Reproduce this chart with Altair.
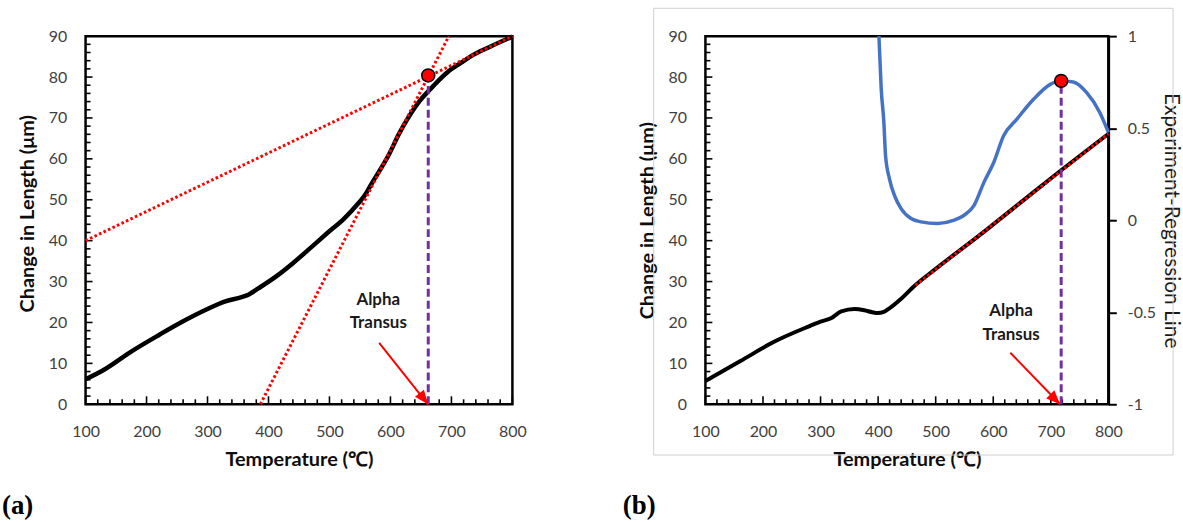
import altair as alt
import pandas as pd

# ---------------- Panel (a) values ----------------
a_temp = [100, 131, 176, 221, 260, 300, 328, 356, 367, 384, 412, 440, 468, 496, 524, 547,
          558, 569, 581, 598, 614, 626, 637, 648, 662, 676, 693, 716, 738, 766, 800]
a_len = [6.1, 8.5, 13.0, 17.0, 20.3, 23.3, 25.1, 26.2, 26.8, 28.4, 31.2, 34.5, 38.1, 41.8, 45.4, 49.1,
         51.1, 53.9, 56.8, 61.2, 66.1, 69.3, 71.9, 74.2, 76.5, 78.7, 81.1, 83.5, 85.6, 87.6, 89.9]
a_tan1_temp = [100, 800]
a_tan1_len = [40, 90]
a_tan2_temp = [386.7, 695.8]
a_tan2_len = [0, 90]
a_point_temp = [662]
a_point_len = [80.4]
a_vline_temp = [662, 662]
a_vline_len = [0, 78.5]
a_arrow_from = [581.5, 15.0]
a_arrow_to = [661.6, 0.0]
a_text_lines = ["Alpha", "Transus"]
a_text_temp = [580, 580]
a_text_len = [25.6, 19.9]

# ---------------- Panel (b) values ----------------
b_temp = [100, 160, 221, 279, 300, 319, 336, 359, 376, 390, 399, 410, 419, 440, 462, 500, 577, 650, 718, 800]
b_len = [5.7, 10.5, 15.4, 19.0, 20.2, 21.1, 22.7, 23.3, 23.0, 22.5, 22.3, 22.6, 23.4, 25.8, 28.8, 33.1,
         41.4, 49.6, 57.2, 66.1]
b_fit_temp = [465, 800]
b_fit_len = [29.1, 66.1]
b_resid_temp = [401.4, 405.4, 410.0, 412.9, 419.7, 428.4, 439.9, 457.2, 474.5, 503.3, 532.1, 549.4,
                566.7, 584, 601, 618, 641, 670, 699, 718, 739, 762, 785, 800]
b_resid_val = [1.0, 0.712, 0.532, 0.351, 0.225, 0.135, 0.063, 0.009, -0.009, -0.018, 0.0, 0.027,
               0.081, 0.207, 0.315, 0.459, 0.549, 0.657, 0.738, 0.757, 0.751, 0.694, 0.585, 0.477]
b_point_temp = [718]
b_point_val = [0.757]
b_vline_temp = [718, 718]
b_vline_len = [0, 78]
b_arrow_from = [629.7, 12.6]
b_arrow_to = [716.2, 0.0]
b_text_lines = ["Alpha", "Transus"]
b_text_temp = [631, 631]
b_text_len = [22.7, 17.0]

x_tick_labels = [100, 200, 300, 400, 500, 600, 700, 800]
y_tick_labels = [0, 10, 20, 30, 40, 50, 60, 70, 80, 90]
r_tick_labels = [-1, -0.5, 0, 0.5, 1]
x_minor = [v for v in range(100, 801, 20) if v % 100 != 0]
y_minor = [v for v in range(0, 91, 2) if v % 10 != 0]

W_A, W_B, H = 429, 405, 370
FONT = "Lato"

xs = alt.Scale(domain=[100, 800], nice=False, zero=False)
ys = alt.Scale(domain=[0, 90], nice=False)
rs = alt.Scale(domain=[-1, 1], nice=False)

X_AXIS = alt.Axis(values=x_tick_labels, ticks=False, domain=False, grid=False, labelPadding=19,
                  labelFlush=False, format="d", title="Temperature (℃)", titlePadding=11)


def make_y_axis(title_y=None):
    kw = dict(values=y_tick_labels, ticks=False, domain=False, grid=False, labelPadding=19,
              format="d", title="Change in Length (μm)", titlePadding=11)
    if title_y is not None:
        kw["titleY"] = title_y
    return alt.Axis(**kw)


R_AXIS = alt.Axis(orient="right", values=r_tick_labels, tickSize=8, tickWidth=2, tickColor="black",
                  domain=True, domainColor="black", domainWidth=2.5, grid=False, labelPadding=11,
                  labelExpr="datum.value + ''", title="Experiment-Regression Line", titlePadding=5,
                  titleFontWeight="normal", titleFontSize=21, titleColor="#1a1a1a")


def build_panel(ya, curve_t, curve_v, curve_w, fits, vline, arrow_from, arrow_to, angle,
                text_lines, text_t, text_v, label, label_x, point=None):
    X = lambda f: alt.X(f, scale=xs, axis=X_AXIS)
    Y = lambda f: alt.Y(f, scale=ys, axis=ya)
    layers = []
    for vals, ln in ((y_tick_labels, 7), (y_minor, 5)):
        layers.append(alt.Chart(pd.DataFrame({"v": vals})).mark_rule(color="black", strokeWidth=1.6).encode(
            y=Y("v:Q"), x=alt.value(0), x2=alt.value(ln)))
    for vals, ln in ((x_tick_labels, 8), (x_minor, 5)):
        layers.append(alt.Chart(pd.DataFrame({"v": vals})).mark_rule(color="black", strokeWidth=1.6).encode(
            x=X("v:Q"), y=alt.value(H), y2=alt.value(H - ln)))
    layers.append(alt.Chart(pd.DataFrame({"t": curve_t, "v": curve_v})).mark_line(
        color="black", strokeWidth=curve_w, interpolate="monotone").encode(x=X("t:Q"), y=Y("v:Q")))
    for ft, fv in fits:
        layers.append(alt.Chart(pd.DataFrame({"t": ft, "v": fv})).mark_line(
            color="#FF0000", strokeWidth=3, strokeDash=[2.6, 2.4]).encode(x=X("t:Q"), y=Y("v:Q")))
    layers.append(alt.Chart(pd.DataFrame({"t": vline[0], "v": vline[1]})).mark_line(
        color="#7030A0", strokeWidth=3, strokeDash=[8, 4]).encode(x=X("t:Q"), y=Y("v:Q")))
    adf = pd.DataFrame({"x0": [arrow_from[0]], "y0": [arrow_from[1]],
                        "x1": [arrow_to[0]], "y1": [arrow_to[1]]})
    layers.append(alt.Chart(adf).mark_rule(color="#FF0000", strokeWidth=2).encode(
        x=X("x0:Q"), y=Y("y0:Q"), x2="x1:Q", y2="y1:Q"))
    layers.append(alt.Chart(adf).mark_point(
        shape="M0,0 L-0.45,1.1 L0.45,1.1 Z", filled=True, fill="#FF0000", opacity=1, size=650,
        angle=angle, strokeWidth=0).encode(x=X("x1:Q"), y=Y("y1:Q")))
    layers.append(alt.Chart(pd.DataFrame({"s": text_lines, "t": text_t, "v": text_v})).mark_text(
        font=FONT, fontSize=17, fontWeight="bold", color="#1a1a1a", baseline="middle", align="center"
    ).encode(x=X("t:Q"), y=Y("v:Q"), text="s:N"))
    if point is not None:
        layers.append(alt.Chart(pd.DataFrame({"t": point[0], "v": point[1]})).mark_point(
            filled=True, fill="#FF0000", stroke="black", strokeWidth=1.5, size=170, opacity=1
        ).encode(x=X("t:Q"), y=Y("v:Q")))
    layers.append(alt.Chart(pd.DataFrame({"s": [label]})).mark_text(
        font="Liberation Serif", fontSize=27, fontWeight="bold", color="black",
        align="left", baseline="alphabetic").encode(text="s:N", x=alt.value(label_x), y=alt.value(480)))
    return layers


# ---------------- Panel (a) ----------------
panel_a = alt.layer(*build_panel(
    make_y_axis(178), a_temp, a_len, 4.5,
    [(a_tan1_temp, a_tan1_len), (a_tan2_temp, a_tan2_len)],
    (a_vline_temp, a_vline_len), a_arrow_from, a_arrow_to, 142,
    a_text_lines, a_text_temp, a_text_len, "(a)", -84,
    point=(a_point_temp, a_point_len))
).properties(width=W_A, height=H)

# ---------------- Panel (b) ----------------
b_border = alt.Chart(pd.DataFrame({"s": [""]})).mark_rect(
    fillOpacity=0, stroke="#D0D0D0", strokeWidth=1).encode(
    x=alt.value(-52), x2=alt.value(470), y=alt.value(-28), y2=alt.value(421))

left_b = alt.layer(b_border, *build_panel(
    make_y_axis(), b_temp, b_len, 4,
    [(b_fit_temp, b_fit_len)],
    (b_vline_temp, b_vline_len), b_arrow_from, b_arrow_to, 135,
    b_text_lines, b_text_temp, b_text_len, "(b)", -83))

b_resid = alt.Chart(pd.DataFrame({"t": b_resid_temp, "v": b_resid_val})).mark_line(
    color="#4472C4", strokeWidth=3.5, interpolate="monotone").encode(
    x=alt.X("t:Q", scale=xs, axis=X_AXIS), y=alt.Y("v:Q", scale=rs, axis=R_AXIS))
b_pt = alt.Chart(pd.DataFrame({"t": b_point_temp, "v": b_point_val})).mark_point(
    filled=True, fill="#FF0000", stroke="black", strokeWidth=1.5, size=170, opacity=1).encode(
    x=alt.X("t:Q", scale=xs, axis=X_AXIS), y=alt.Y("v:Q", scale=rs, axis=R_AXIS))
right_b = alt.layer(b_resid, b_pt)

panel_b = alt.layer(left_b, right_b).resolve_scale(y="independent").properties(width=W_B, height=H)

chart = alt.hconcat(panel_a, panel_b, spacing=93).properties(
    padding={"left": 0, "top": 5, "right": 0, "bottom": 0}, background="white"
).configure_view(stroke="black", strokeWidth=2.5).configure_axis(
    labelFont=FONT, labelFontSize=16, labelColor="#404040",
    titleFont=FONT, titleFontSize=20, titleFontWeight="bold", titleColor="#0d0d0d"
)

chart.save("out.html", embed_options={"renderer": "svg", "actions": False})
